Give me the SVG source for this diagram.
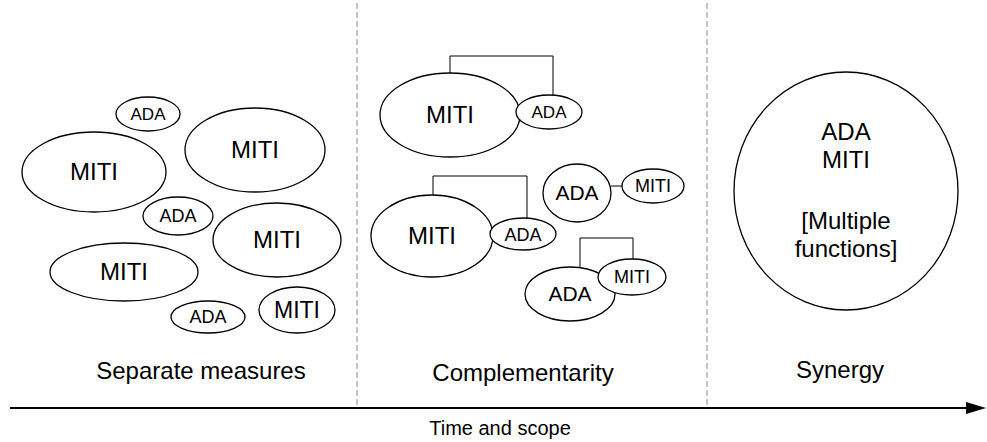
<svg xmlns="http://www.w3.org/2000/svg" width="987" height="442" viewBox="0 0 987 442">
<style>
.n ellipse{fill:#fff;stroke:#000;stroke-width:1.3}
text{font-family:"Liberation Sans",Arial,sans-serif;fill:#000;text-anchor:middle}
.c{fill:none;stroke:#000;stroke-width:1}
.d{stroke:#8c8c8c;stroke-width:1;stroke-dasharray:6,3}
</style>
<defs>
<marker id="ah" markerWidth="20" markerHeight="12" refX="0" refY="6" orient="auto" markerUnits="userSpaceOnUse">
<path d="M0,0 L20,6 L0,12 Z" fill="#000"/>
</marker>
</defs>
<g id="dividers">
<line class="d" x1="357" y1="3" x2="357" y2="408"/>
<line class="d" x1="707" y1="3" x2="707" y2="408"/>
</g>
<g id="axis">
<line x1="10" y1="408" x2="966" y2="408" stroke="#000" stroke-width="2" marker-end="url(#ah)"/>
<text x="500" y="435" font-size="20">Time and scope</text>
</g>
<g id="left">
<g id="l-ada1" class="n"><ellipse cx="148" cy="114" rx="32" ry="17"/><text x="148" y="120" font-size="17">ADA</text></g>
<g id="l-miti1" class="n"><ellipse cx="94" cy="172" rx="72" ry="40"/><text x="94" y="180" font-size="24">MITI</text></g>
<g id="l-miti2" class="n"><ellipse cx="255" cy="150" rx="70" ry="42"/><text x="255" y="158" font-size="24">MITI</text></g>
<g id="l-ada2" class="n"><ellipse cx="178" cy="216" rx="35" ry="19"/><text x="178" y="222" font-size="18">ADA</text></g>
<g id="l-miti3" class="n"><ellipse cx="277" cy="240" rx="64" ry="37"/><text x="277" y="248" font-size="24">MITI</text></g>
<g id="l-miti4" class="n"><ellipse cx="124" cy="272" rx="74" ry="29"/><text x="124" y="280" font-size="24">MITI</text></g>
<g id="l-ada3" class="n"><ellipse cx="208" cy="317" rx="37" ry="16"/><text x="208" y="323" font-size="18">ADA</text></g>
<g id="l-miti5" class="n"><ellipse cx="297" cy="310" rx="38" ry="23"/><text x="297" y="318" font-size="23">MITI</text></g>
<text x="201" y="379" font-size="24">Separate measures</text>
</g>
<g id="connectors">
<path class="c" d="M450,73 V56 H553 V95"/>
<path class="c" d="M433,195 V176 H527 V218"/>
<path class="c" d="M611,186 H622"/>
<path class="c" d="M580,268 V238 H633 V260"/>
</g>
<g id="middle">
<g id="m-miti1" class="n"><ellipse cx="450" cy="115" rx="70" ry="42"/><text x="450" y="123" font-size="24">MITI</text></g>
<g id="m-ada1" class="n"><ellipse cx="549" cy="112" rx="33" ry="17"/><text x="549" y="118" font-size="17">ADA</text></g>
<g id="m-miti2" class="n"><ellipse cx="432" cy="236" rx="61" ry="41"/><text x="432" y="244" font-size="24">MITI</text></g>
<g id="m-ada2" class="n"><ellipse cx="523" cy="234" rx="33" ry="16"/><text x="523" y="241" font-size="18">ADA</text></g>
<g id="m-ada3" class="n"><ellipse cx="577" cy="193" rx="34" ry="29"/><text x="577" y="200" font-size="21">ADA</text></g>
<g id="m-miti3" class="n"><ellipse cx="653" cy="186" rx="31" ry="17"/><text x="653" y="192" font-size="18">MITI</text></g>
<g id="m-ada4" class="n"><ellipse cx="570" cy="294" rx="45" ry="27"/><text x="570" y="301" font-size="21">ADA</text></g>
<g id="m-miti4" class="n"><ellipse cx="632" cy="277" rx="34" ry="18"/><text x="632" y="283" font-size="18">MITI</text></g>
<text x="523" y="381" font-size="24">Complementarity</text>
</g>
<g id="right">
<g id="r-synergy" class="n"><ellipse cx="846" cy="191" rx="112" ry="119"/>
<text x="846" y="140" font-size="24">ADA</text>
<text x="846" y="168" font-size="24">MITI</text>
<text x="846" y="229" font-size="24">[Multiple</text>
<text x="846" y="257" font-size="24">functions]</text>
</g>
<text x="840" y="378" font-size="24">Synergy</text>
</g>
</svg>
